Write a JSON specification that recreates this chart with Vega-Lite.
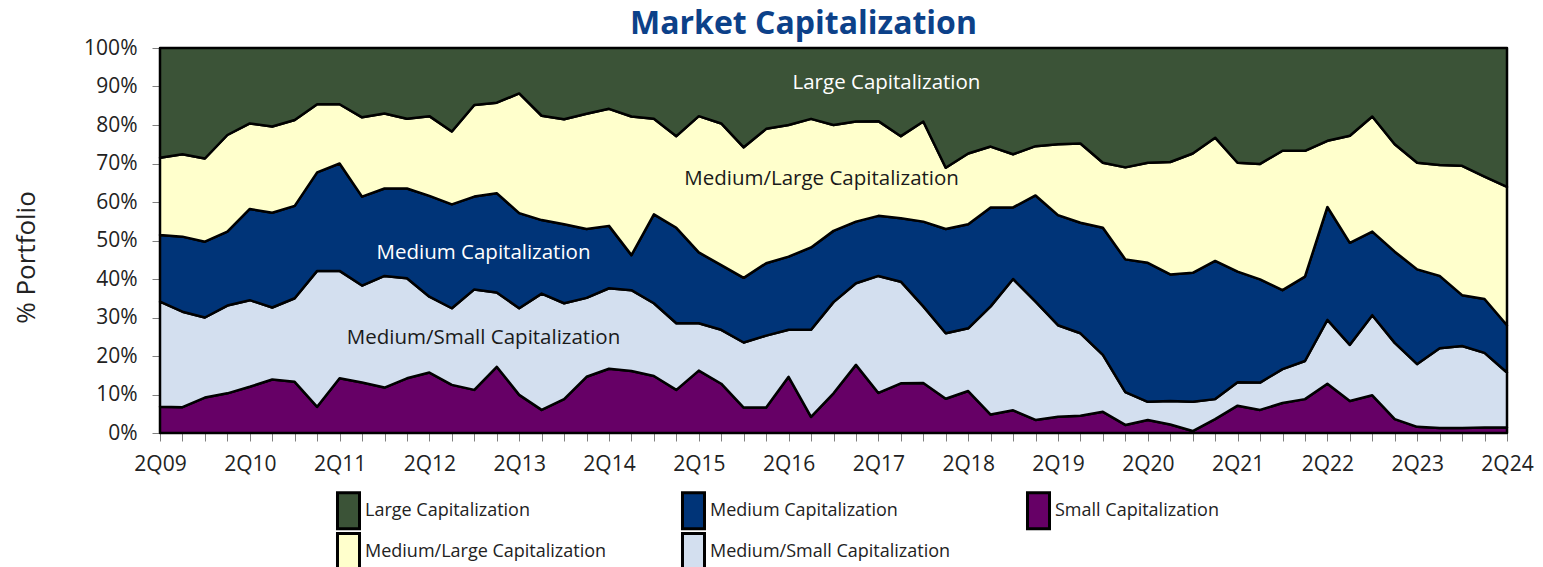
{
  "$schema": "https://vega.github.io/schema/vega-lite/v6.json",
  "width": 1347,
  "height": 385,
  "autosize": {"type": "none"},
  "padding": {"left": 160, "top": 48, "right": 36, "bottom": 134},
  "background": "white",
  "config": {
    "view": {"stroke": "#808080", "strokeWidth": 1},
    "font": "Open Sans"
  },
  "title": {"text": "Market Capitalization", "font": "Open Sans", "fontSize": 32, "fontWeight": "bold", "color": "#0c4189", "anchor": "middle", "dx": -30, "dy": 18, "offset": 14},
  "datasets": {
    "shares": [
      {"t":0,"S":6.8,"MS":27.3,"M":17.3,"ML":20.1,"L":28.5},
      {"t":1,"S":6.7,"MS":24.8,"M":19.5,"ML":21.4,"L":27.6},
      {"t":2,"S":9.2,"MS":20.8,"M":19.7,"ML":21.6,"L":28.7},
      {"t":3,"S":10.3,"MS":22.8,"M":19.2,"ML":25.1,"L":22.6},
      {"t":4,"S":12.0,"MS":22.5,"M":23.7,"ML":22.2,"L":19.6},
      {"t":5,"S":13.9,"MS":18.7,"M":24.6,"ML":22.4,"L":20.4},
      {"t":6,"S":13.3,"MS":21.7,"M":24.0,"ML":22.3,"L":18.7},
      {"t":7,"S":6.8,"MS":35.3,"M":25.6,"ML":17.7,"L":14.6},
      {"t":8,"S":14.2,"MS":27.9,"M":27.9,"ML":15.4,"L":14.6},
      {"t":9,"S":13.1,"MS":25.2,"M":23.1,"ML":20.6,"L":18.0},
      {"t":10,"S":11.8,"MS":29.0,"M":22.7,"ML":19.5,"L":17.0},
      {"t":11,"S":14.2,"MS":26.0,"M":23.3,"ML":18.1,"L":18.4},
      {"t":12,"S":15.7,"MS":19.7,"M":26.2,"ML":20.7,"L":17.7},
      {"t":13,"S":12.5,"MS":19.9,"M":27.0,"ML":18.9,"L":21.7},
      {"t":14,"S":11.2,"MS":26.1,"M":24.1,"ML":23.8,"L":14.8},
      {"t":15,"S":17.2,"MS":19.3,"M":25.8,"ML":23.5,"L":14.2},
      {"t":16,"S":9.9,"MS":22.5,"M":24.7,"ML":31.1,"L":11.8},
      {"t":17,"S":6.0,"MS":30.2,"M":19.1,"ML":27.1,"L":17.6},
      {"t":18,"S":8.8,"MS":24.9,"M":20.5,"ML":27.3,"L":18.5},
      {"t":19,"S":14.6,"MS":20.5,"M":17.9,"ML":29.9,"L":17.1},
      {"t":20,"S":16.7,"MS":20.9,"M":16.2,"ML":30.4,"L":15.8},
      {"t":21,"S":16.1,"MS":21.0,"M":9.1,"ML":36.0,"L":17.8},
      {"t":22,"S":14.8,"MS":18.9,"M":23.1,"ML":24.8,"L":18.4},
      {"t":23,"S":11.2,"MS":17.3,"M":24.8,"ML":23.8,"L":22.9},
      {"t":24,"S":16.2,"MS":12.3,"M":18.4,"ML":35.4,"L":17.7},
      {"t":25,"S":12.8,"MS":14.0,"M":16.8,"ML":36.8,"L":19.6},
      {"t":26,"S":6.6,"MS":16.9,"M":16.8,"ML":33.9,"L":25.8},
      {"t":27,"S":6.6,"MS":18.7,"M":18.8,"ML":34.9,"L":21.0},
      {"t":28,"S":14.6,"MS":12.2,"M":19.0,"ML":34.2,"L":20.0},
      {"t":29,"S":4.2,"MS":22.6,"M":21.4,"ML":33.4,"L":18.4},
      {"t":30,"S":10.3,"MS":23.7,"M":18.5,"ML":27.5,"L":20.0},
      {"t":31,"S":17.7,"MS":21.2,"M":16.0,"ML":26.0,"L":19.1},
      {"t":32,"S":10.4,"MS":30.4,"M":15.6,"ML":24.6,"L":19.0},
      {"t":33,"S":12.9,"MS":26.4,"M":16.5,"ML":21.3,"L":22.9},
      {"t":34,"S":13.0,"MS":19.9,"M":22.0,"ML":26.0,"L":19.1},
      {"t":35,"S":8.9,"MS":17.0,"M":27.1,"ML":15.9,"L":31.1},
      {"t":36,"S":10.9,"MS":16.3,"M":27.0,"ML":18.4,"L":27.4},
      {"t":37,"S":4.8,"MS":28.1,"M":25.7,"ML":15.8,"L":25.6},
      {"t":38,"S":5.9,"MS":34.1,"M":18.6,"ML":13.8,"L":27.6},
      {"t":39,"S":3.4,"MS":30.7,"M":27.6,"ML":12.8,"L":25.5},
      {"t":40,"S":4.2,"MS":23.8,"M":28.6,"ML":18.4,"L":25.0},
      {"t":41,"S":4.5,"MS":21.4,"M":28.7,"ML":20.6,"L":24.8},
      {"t":42,"S":5.5,"MS":14.8,"M":33.0,"ML":16.9,"L":29.8},
      {"t":43,"S":2.1,"MS":8.5,"M":34.5,"ML":23.9,"L":31.0},
      {"t":44,"S":3.4,"MS":4.7,"M":36.1,"ML":26.0,"L":29.8},
      {"t":45,"S":2.2,"MS":6.1,"M":32.9,"ML":29.2,"L":29.6},
      {"t":46,"S":0.5,"MS":7.6,"M":33.5,"ML":31.0,"L":27.4},
      {"t":47,"S":3.6,"MS":5.2,"M":35.9,"ML":32.0,"L":23.3},
      {"t":48,"S":7.1,"MS":6.1,"M":28.7,"ML":28.3,"L":29.8},
      {"t":49,"S":6.0,"MS":7.1,"M":26.8,"ML":30.0,"L":30.1},
      {"t":50,"S":7.8,"MS":8.8,"M":20.5,"ML":36.2,"L":26.7},
      {"t":51,"S":8.8,"MS":9.9,"M":21.9,"ML":32.7,"L":26.7},
      {"t":52,"S":12.8,"MS":16.6,"M":29.3,"ML":17.2,"L":24.1},
      {"t":53,"S":8.3,"MS":14.6,"M":26.5,"ML":27.8,"L":22.8},
      {"t":54,"S":9.8,"MS":20.8,"M":21.7,"ML":29.9,"L":17.8},
      {"t":55,"S":3.6,"MS":19.8,"M":23.7,"ML":27.9,"L":25.0},
      {"t":56,"S":1.6,"MS":16.3,"M":24.6,"ML":27.7,"L":29.8},
      {"t":57,"S":1.3,"MS":20.7,"M":18.8,"ML":28.8,"L":30.4},
      {"t":58,"S":1.3,"MS":21.3,"M":13.2,"ML":33.6,"L":30.6},
      {"t":59,"S":1.4,"MS":19.4,"M":14.0,"ML":31.8,"L":33.4},
      {"t":60,"S":1.4,"MS":14.3,"M":12.3,"ML":35.9,"L":36.1}
    ],
    "caps": [
      {"k":"S","cap":"Small Capitalization","ord":1},
      {"k":"MS","cap":"Medium/Small Capitalization","ord":2},
      {"k":"M","cap":"Medium Capitalization","ord":3},
      {"k":"ML","cap":"Medium/Large Capitalization","ord":4},
      {"k":"L","cap":"Large Capitalization","ord":5}
    ],
    "notes": [
      {"t": 32.36, "share": 90.9, "label": "Large Capitalization", "tone": "light"},
      {"t": 14.41, "share": 46.75, "label": "Medium Capitalization", "tone": "light"},
      {"t": 29.47, "share": 66.0, "label": "Medium/Large Capitalization", "tone": "dark"},
      {"t": 14.41, "share": 24.7, "label": "Medium/Small Capitalization", "tone": "dark"}
    ]
  },
  "encoding": {
    "x": {
      "field": "t", "type": "quantitative",
      "scale": {"domain": [0, 60], "nice": false, "zero": false},
      "axis": {
        "title": null,
        "values": [0,1,2,3,4,5,6,7,8,9,10,11,12,13,14,15,16,17,18,19,20,21,22,23,24,25,26,27,28,29,30,31,32,33,34,35,36,37,38,39,40,41,42,43,44,45,46,47,48,49,50,51,52,53,54,55,56,57,58,59,60],
        "labelExpr": "datum.value % 4 === 0 ? '2Q' + slice('0' + (9 + datum.value / 4), -2) : ''",
        "labelFont": "Open Sans", "labelFontSize": 21, "labelColor": "#222222",
        "labelPadding": 12, "labelOverlap": false, "labelFlush": false,
        "tickSize": 8, "tickColor": "#808080", "domainColor": "#808080", "grid": false
      }
    }
  },
  "layer": [
    {
      "data": {"name": "shares"},
      "transform": [
        {"fold": ["S", "MS", "M", "ML", "L"], "as": ["k", "share"]},
        {"lookup": "k", "from": {"data": {"name": "caps"}, "key": "k", "fields": ["cap", "ord"]}}
      ],
      "mark": {"type": "area", "stroke": "black", "strokeWidth": 2.5, "strokeJoin": "round", "opacity": 1},
      "encoding": {
        "y": {
          "field": "share", "type": "quantitative", "stack": "zero",
          "scale": {"domain": [0, 100], "nice": false},
          "axis": {
            "title": "% Portfolio", "titleFont": "Open Sans", "titleFontSize": 26, "titleFontWeight": "normal",
            "titleColor": "#222222", "titleX": -134, "titleY": 209, "titleAngle": -90,
            "titleBaseline": "middle", "titleAlign": "center",
            "values": [0,10,20,30,40,50,60,70,80,90,100],
            "labelExpr": "datum.value + '%'", "labelOverlap": false, "labelFlush": false,
            "labelFont": "Open Sans", "labelFontSize": 21, "labelColor": "#222222", "labelPadding": 15,
            "tickSize": 8, "tickColor": "#808080", "domainColor": "#808080", "grid": false
          }
        },
        "color": {
          "field": "cap", "type": "nominal",
          "scale": {
            "domain": ["Large Capitalization", "Medium/Large Capitalization", "Medium Capitalization", "Medium/Small Capitalization", "Small Capitalization"],
            "range": ["#3b5337", "#ffffcc", "#003478", "#d3dfef", "#660066"]
          },
          "legend": {
            "title": null, "orient": "none", "legendX": 168, "legendY": 446, "columns": 3,
            "symbolType": "M-0.467,-1.2H1V1.2H-0.467Z", "symbolSize": 900,
            "symbolStrokeColor": "black", "symbolStrokeWidth": 3, "symbolOpacity": 1,
            "labelFont": "Open Sans", "labelFontSize": 18, "labelColor": "#222222", "labelOffset": 4,
            "labelLimit": 400, "columnPadding": 66, "rowPadding": -11, "gridAlign": "all", "padding": 0
          }
        },
        "order": {"field": "ord", "type": "quantitative"}
      }
    },
    {
      "data": {"name": "notes"},
      "transform": [{"filter": "datum.tone === 'light'"}],
      "mark": {"type": "text", "color": "white", "font": "Open Sans", "fontSize": 20.5},
      "encoding": {
        "y": {
          "field": "share", "type": "quantitative",
          "axis": {
            "title": "% Portfolio", "titleFont": "Open Sans", "titleFontSize": 26, "titleFontWeight": "normal",
            "titleColor": "#222222", "titleX": -134, "titleY": 209, "titleAngle": -90,
            "titleBaseline": "middle", "titleAlign": "center",
            "values": [0,10,20,30,40,50,60,70,80,90,100],
            "labelExpr": "datum.value + '%'", "labelOverlap": false, "labelFlush": false,
            "labelFont": "Open Sans", "labelFontSize": 21, "labelColor": "#222222", "labelPadding": 15,
            "tickSize": 8, "tickColor": "#808080", "domainColor": "#808080", "grid": false
          }
        },
        "text": {"field": "label"}
      }
    },
    {
      "data": {"name": "notes"},
      "transform": [{"filter": "datum.tone === 'dark'"}],
      "mark": {"type": "text", "color": "#1a1a1a", "font": "Open Sans", "fontSize": 20.5},
      "encoding": {
        "y": {
          "field": "share", "type": "quantitative",
          "axis": {
            "title": "% Portfolio", "titleFont": "Open Sans", "titleFontSize": 26, "titleFontWeight": "normal",
            "titleColor": "#222222", "titleX": -134, "titleY": 209, "titleAngle": -90,
            "titleBaseline": "middle", "titleAlign": "center",
            "values": [0,10,20,30,40,50,60,70,80,90,100],
            "labelExpr": "datum.value + '%'", "labelOverlap": false, "labelFlush": false,
            "labelFont": "Open Sans", "labelFontSize": 21, "labelColor": "#222222", "labelPadding": 15,
            "tickSize": 8, "tickColor": "#808080", "domainColor": "#808080", "grid": false
          }
        },
        "text": {"field": "label"}
      }
    }
  ]
}
